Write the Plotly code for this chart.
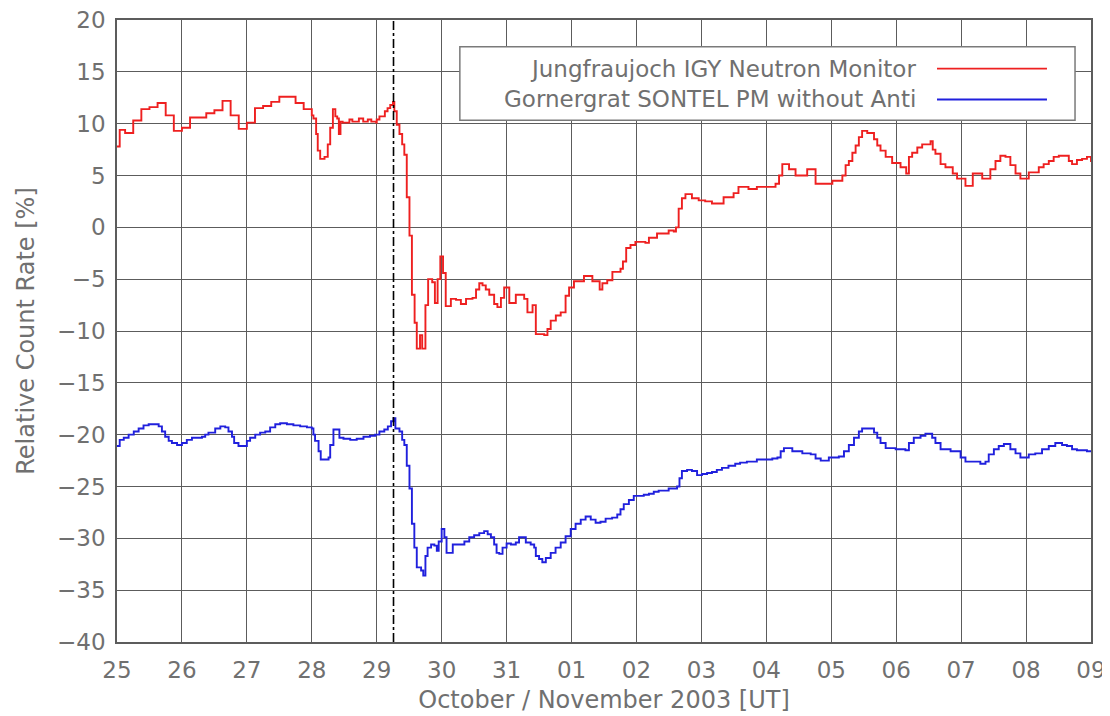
import pandas as pd
import plotly.graph_objects as go

# ---------------- data (hours since 2003-10-25 00:00 UT) ----------------
start = pd.Timestamp("2003-10-25 00:00")
end = pd.Timestamp("2003-11-09 00:00")
shock_hour = 102.2  # dash-dot marker (29 Oct ~06 UT)

red_hours = [
    0, 1, 3, 6, 9, 12, 15, 18, 21,
    24, 27, 30, 33, 36, 39, 42, 45,
    48, 51, 54, 57, 60, 63, 66, 69,
    72, 72.6, 73.6, 74.2, 75.1, 76.7, 77.9, 78.8, 79.8, 80.7, 81.4, 82.0, 82.6, 83.4, 85.9, 87, 89.4, 91, 92.7, 94, 95.8,
    96, 97, 99, 100, 101, 102, 102.5, 103.4, 104.4, 105.4, 106.2, 107.1, 108.1, 109, 110, 110.8, 112, 112.8, 114, 115,
    116.5, 117.5, 118.5, 119.5, 120.5, 121.5,
    123.4, 125.3, 127.1, 129.0, 131.4, 132.7, 133.9, 135.1, 136.3, 137.6, 139.4, 140.6, 141.9, 143.1, 145.0,
    147.4, 150.5, 151.7, 153.6, 154.8, 157.9, 159.1, 160.3, 162.2, 164.0, 165.8, 167.1, 168.9, 172.6, 175.7,
    178.4, 179.4, 181.2, 183.1, 186.1, 187.0, 188.2, 189.8, 191.6, 195.3, 196.6, 199.6, 203.9, 205.8, 206.6,
    207.6, 208.8, 210.1, 212.5, 215.0, 217.4, 219.9, 224.2, 227.9, 229.7, 233.4, 236.5,
    240, 243.4, 244.7, 245.9, 248.4, 250.8, 255.1, 258.2, 263.8, 264.4, 268.1, 269.3, 270.5, 271.8, 273.0,
    274.2, 275.4, 277.3, 279.8, 281.0, 282.2, 284.1, 286.5, 289.6, 291.7, 292.7, 293.9, 295.8, 297.6, 300.7,
    301.5, 302.5, 304.4, 306.2, 308.9, 310.5, 313.6, 316.3, 319.8, 322.8, 324.7, 326.5, 328.4, 330.2, 332.1,
    333.9, 337.0, 340.7, 342.5, 344.4, 346.2, 348.1, 351.8, 353.0, 354.8, 356.7, 358.5, 360,
]
red_values = [
    7.8, 9.4, 9.1, 10.3, 11.4, 11.6, 12.0, 10.8, 9.3,
    9.6, 10.6, 10.6, 11.0, 11.3, 12.2, 10.8, 9.5,
    10.1, 11.5, 11.7, 12.1, 12.6, 12.6, 12.0, 11.4,
    10.8, 10.5, 9.0, 7.4, 6.6, 6.8, 8.0, 9.6, 11.4, 10.7, 10.5, 9.0, 10.2, 10.1, 10.4, 10.2, 10.5, 10.2, 10.4, 10.2, 10.1,
    10.4, 10.7, 11.2, 11.5, 11.8, 12.1, 11.2, 9.9, 9.0, 8.0, 7.0, 2.9, -0.8, -6.5, -9.2, -11.7, -10.4, -11.7, -7.5, -5.0,
    -5.3, -7.3, -5.0, -2.8, -4.4, -7.6,
    -6.9, -7.0, -7.4, -6.9, -6.8, -6.0, -5.4, -5.6, -6.0, -6.5, -7.4, -7.7, -6.8, -5.8, -7.3,
    -6.5, -6.9, -8.2, -7.5, -10.3, -10.4, -9.8, -9.0, -8.5, -8.2, -6.6, -5.8, -5.2, -4.7, -5.2,
    -6.0, -5.4, -5.1, -4.3, -4.0, -3.3, -2.0, -1.7, -1.4, -1.5, -1.0, -0.6, -0.3, -0.4, 0.0,
    1.8, 2.8, 3.2, 2.8, 2.6, 2.5, 2.3, 2.9, 3.3, 3.9, 3.7, 3.9,
    3.9, 4.2, 5.0, 6.1, 5.6, 5.0, 5.6, 4.2, 4.2, 4.5, 5.0, 6.0, 6.4, 7.2, 7.9,
    8.7, 9.3, 9.1, 8.5, 7.9, 7.4, 6.8, 6.2, 5.8, 5.2, 6.8, 7.2, 7.7, 8.0, 8.3,
    7.5, 7.1, 6.1, 5.8, 5.2, 4.7, 4.0, 5.2, 4.7, 5.6, 6.4, 6.9, 6.8, 6.0, 5.2,
    4.7, 5.3, 5.8, 6.1, 6.4, 6.8, 6.9, 6.4, 6.1, 6.5, 6.6, 6.8, 6.3,
]

blue_hours = [
    0, 1.0, 2.5, 4.3, 6.2, 8.0, 9.8, 11.7, 14.2, 15.4, 16.6, 17.8, 19.1, 20.3, 22.2,
    24, 25.8, 27.7, 31.4, 32.6, 33.8, 36.3, 38.2, 40.0, 41.2, 42.5, 43.3, 44.9, 46.8,
    48, 49.2, 51.1, 52.9, 54.8, 56.6, 58.5, 60.3, 62.8, 65.2, 67.7, 70.2, 72.0, 72.6, 73.2,
    74.5, 75.3, 76.9, 78.2, 78.8, 80.0, 81.8, 82.2, 83.7, 86.2, 88.6, 91.1, 93.5, 95.4,
    97.0, 98.8, 100.1, 101.3, 102.2, 102.9, 104.4, 105.4, 106.2, 107.1, 108.1, 109.0, 109.9, 110.8, 112.4,
    113.2, 114.0, 114.8, 116.1, 117.3, 118.2, 118.9, 120.0, 121.0, 121.8,
    124.1, 126.5, 128.4, 130.2, 132.0, 133.9, 135.7, 137.0, 138.2, 139.4, 140.3, 141.3, 142.5, 144.0, 145.6,
    147.4, 148.6, 149.9, 151.1, 152.9, 154.2, 154.8, 156.0, 157.2, 158.5, 160.3, 162.1, 164.0, 165.8, 167.7,
    169.5, 171.4, 173.2, 175.1, 176.9, 178.7, 180.6, 183.0, 184.9, 186.1, 187.3, 189.2, 191.0, 192.9, 194.7,
    196.6, 198.4, 200.2, 202.1, 203.9, 205.8, 207.0, 207.9, 208.8, 210.7, 212.5, 214.4, 216.2, 218.1, 219.9,
    221.7, 223.6, 226.0, 228.5, 230.3, 232.8, 234.6, 236.5,
    240, 242.2, 244.1, 245.3, 246.5, 249.6, 253.3, 256.4, 258.2, 260.1, 263.1, 266.8, 268.7, 270.5, 272.4,
    274.2, 275.4, 277.3, 279.8, 281.0, 282.2, 284.1, 287.8, 289.6, 291.4, 292.7, 294.5, 297.0, 298.8, 301.3,
    302.5, 304.4, 308.1, 311.8, 313.6, 317.3, 319.1, 321.0, 322.2, 324.1, 325.9, 327.8, 330.2, 332.1, 333.9,
    337.0, 339.4, 341.9, 344.4, 346.8, 349.3, 351.1, 353.0, 354.8, 356.7, 358.5, 360,
]
blue_values = [
    -21.1, -20.5, -20.3, -20.0, -19.7, -19.4, -19.1, -19.0, -19.0, -19.2, -19.7, -20.2, -20.6, -20.8, -21.0,
    -20.8, -20.5, -20.3, -20.2, -20.0, -19.8, -19.4, -19.2, -19.3, -19.7, -20.2, -20.8, -21.1, -21.1,
    -20.6, -20.3, -20.0, -19.8, -19.7, -19.3, -19.0, -18.9, -19.0, -19.1, -19.2, -19.3, -19.4, -20.0, -20.6,
    -21.6, -22.4, -22.4, -22.2, -21.0, -19.5, -19.5, -20.3, -20.4, -20.5, -20.4, -20.2, -20.1, -20.0,
    -19.7, -19.5, -19.2, -18.7, -18.4, -19.4, -19.7, -20.5, -21.0, -23.0, -25.2, -28.6, -30.9, -32.8, -33.1,
    -33.6, -31.7, -30.9, -30.6, -30.7, -31.2, -30.3, -29.1, -29.9, -31.4,
    -30.6, -30.6, -30.3, -29.9, -29.7, -29.5, -29.3, -29.6, -29.9, -30.6, -31.4, -31.5, -30.9, -30.5, -30.6,
    -30.4, -29.9, -29.9, -30.4, -30.6, -30.9, -31.7, -32.0, -32.3, -31.9, -31.4, -30.9, -30.4, -29.8, -29.1,
    -28.6, -28.2, -27.9, -28.2, -28.5, -28.4, -28.1, -28.0, -27.7, -27.2, -26.7, -26.3, -25.9, -25.9, -25.8,
    -25.7, -25.5, -25.4, -25.4, -25.2, -25.2, -25.0, -24.2, -23.5, -23.4, -23.5, -23.9, -23.8, -23.7, -23.6,
    -23.4, -23.2, -23.0, -22.8, -22.7, -22.6, -22.6, -22.4,
    -22.4, -22.3, -22.2, -21.6, -21.3, -21.6, -21.8, -21.9, -22.3, -22.5, -22.2, -22.1, -21.6, -21.0, -20.3,
    -19.7, -19.4, -19.4, -19.8, -20.3, -20.8, -21.3, -21.4, -21.4, -21.5, -20.8, -20.3, -20.1, -19.9, -20.3,
    -20.8, -21.4, -21.6, -22.2, -22.6, -22.6, -22.8, -22.6, -21.9, -21.4, -21.1, -20.9, -21.4, -21.8, -22.2,
    -21.9, -21.8, -21.4, -21.1, -20.8, -21.0, -21.1, -21.4, -21.5, -21.5, -21.6, -21.7,
]

series_names = ["Jungfraujoch IGY Neutron Monitor", "Gornergrat SONTEL PM without Anti"]
series_colors = ["#ee2020", "#2020dd"]
y_range = [-40, 20]
y_step = 5
x_title = "October / November 2003 [UT]"
y_title = "Relative Count Rate [%]"

# ---------------- figure ----------------
FONT = "DejaVu Sans"
TXT = "#707070"
GRID = "#5c5c5c"


def to_time(hours):
    return start + pd.to_timedelta(hours, unit="h")


fig = go.Figure()
for hrs, vals, name, col in [
    (red_hours, red_values, series_names[0], series_colors[0]),
    (blue_hours, blue_values, series_names[1], series_colors[1]),
]:
    fig.add_trace(go.Scatter(
        x=to_time(hrs), y=vals, name=name, mode="lines",
        line=dict(color=col, width=1.9, shape="hv"), showlegend=False,
    ))

shock_time = to_time([shock_hour])[0]
fig.add_shape(type="line", xref="x", yref="paper", x0=shock_time, x1=shock_time,
              y0=0, y1=1, line=dict(color="black", width=1.6, dash="dashdot"))

# legend box (symbols drawn to the right of the labels, as in the original)
fig.add_shape(type="rect", xref="paper", yref="paper", x0=0.352, x1=0.9836, y0=0.839, y1=0.957,
              line=dict(color="#7a7a7a", width=1.5), fillcolor="white", layer="above")
for i, (name, col) in enumerate(zip(series_names, series_colors)):
    yy = 0.9217 - i * 0.0495
    fig.add_annotation(x=0.8224, y=yy, xref="paper", yref="paper", text=name, showarrow=False,
                       xanchor="right", yanchor="middle",
                       font=dict(family=FONT, size=23, color=TXT))
    fig.add_shape(type="line", xref="paper", yref="paper", x0=0.8419, x1=0.9548, y0=yy, y1=yy,
                  line=dict(color=col, width=1.8), layer="above")

axis_common = dict(
    showgrid=True, gridcolor=GRID, gridwidth=1,
    showline=True, mirror=True, linecolor=GRID, linewidth=1.5,
    ticks="", zeroline=False, automargin=False, ticklabeloverflow="allow",
    tickfont=dict(family=FONT, size=23, color=TXT),
)
fig.update_xaxes(
    type="date", range=[start, end], tick0=start, dtick=86400000, tickformat="%d",
    title=dict(text=x_title, font=dict(family=FONT, size=24, color=TXT), standoff=9),
    ticklabelstandoff=7,
    **axis_common,
)
fig.update_yaxes(
    range=y_range, dtick=y_step, tick0=0,
    title=dict(text=y_title, font=dict(family=FONT, size=24, color=TXT), standoff=16),
    ticklabelstandoff=5,
    **axis_common,
)
# page body has an 8 px margin, so the figure is 1102x708 and margins are offset accordingly
fig.update_layout(
    width=1102, height=708,
    margin=dict(l=109, r=19, t=12, b=74),
    paper_bgcolor="white", plot_bgcolor="white",
    showlegend=False,
)
fig.write_html("out.html")
